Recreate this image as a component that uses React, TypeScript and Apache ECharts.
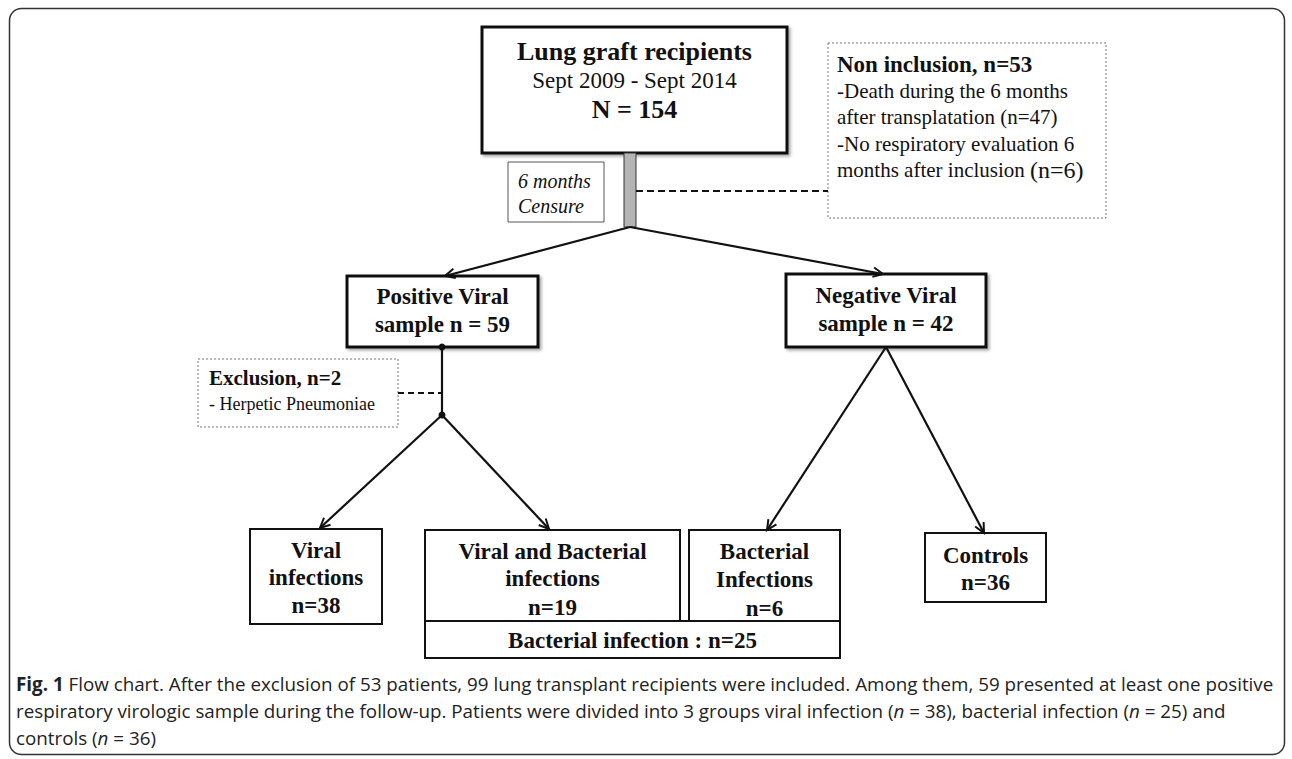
import React, { useEffect, useRef } from 'react';
import * as echarts from 'echarts';

// ---------- data (texts and counts) ----------
const TITLE_LINES = ['Lung graft recipients', 'Sept 2009 - Sept 2014', 'N = 154'];
const CENSURE_LINES = ['6 months', 'Censure'];
const NON_INCLUSION_LINES = [
  'Non inclusion, n=53',
  '-Death during the 6 months',
  'after transplatation (n=47)',
  '-No respiratory evaluation 6',
  'months after inclusion {big|(n=6)}',
];
const POSITIVE_LINES = ['Positive Viral', 'sample n = 59'];
const NEGATIVE_LINES = ['Negative Viral', 'sample n = 42'];
const EXCLUSION_LINES = ['Exclusion, n=2', '- Herpetic Pneumoniae'];
const VIRAL_LINES = ['Viral', 'infections', 'n=38'];
const VIRAL_BACT_LINES = ['Viral and Bacterial', 'infections', 'n=19'];
const BACT_LINES = ['Bacterial', 'Infections', 'n=6'];
const CONTROL_LINES = ['Controls', 'n=36'];
const BACT_TOTAL = 'Bacterial infection : n=25';
const CAPTION_LINES = [
  '{b|Fig. 1} Flow chart. After the exclusion of 53 patients, 99 lung transplant recipients were included. Among them, 59 presented at least one positive',
  'respiratory virologic sample during the follow-up. Patients were divided into 3 groups viral infection ({i|n} = 38), bacterial infection ({i|n} = 25) and',
  'controls ({i|n} = 36)',
];

// ---------- layout ----------
const SERIF = '"Liberation Serif", "Times New Roman", Times, serif';
const SANS = '"Open Sans", "Noto Sans", sans-serif';
const INK = '#111';
const CAP_SIZE = 18.8;

function buildElements() {
  const els: any[] = [];

  const box = (x: number, y: number, w: number, h: number, style: any, z = 2) => {
    els.push({ type: 'rect', z, silent: true, shape: { x, y, width: w, height: h }, style: { fill: '#fff', ...style } });
  };
  const text = (
    x: number, base: number, s: string, size: number,
    o: { weight?: string; italic?: boolean; align?: string; family?: string; k?: number; rich?: any } = {}
  ) => {
    const k = o.k ?? 0.34;
    els.push({
      type: 'text', z: 10, silent: true, x, y: base - k * size,
      style: {
        text: s, fill: INK, fontSize: size, fontFamily: o.family || SERIF,
        fontWeight: o.weight || 'normal', fontStyle: o.italic ? 'italic' : 'normal',
        align: o.align || 'center', verticalAlign: 'middle',
        textAlign: o.align || 'center', textVerticalAlign: 'middle',
        ...(o.rich ? { rich: o.rich } : {}),
      },
    });
  };
  const line = (x1: number, y1: number, x2: number, y2: number, style: any = {}) => {
    els.push({ type: 'line', z: 3, silent: true, shape: { x1, y1, x2, y2 }, style: { stroke: INK, lineWidth: 2.2, ...style } });
  };
  const arrow = (x1: number, y1: number, x2: number, y2: number) => {
    line(x1, y1, x2, y2);
    const a = Math.atan2(y2 - y1, x2 - x1);
    const L = 11, s = 0.45;
    els.push({
      type: 'polyline', z: 3, silent: true,
      shape: { points: [
        [x2 - L * Math.cos(a - s), y2 - L * Math.sin(a - s)],
        [x2, y2],
        [x2 - L * Math.cos(a + s), y2 - L * Math.sin(a + s)],
      ] },
      style: { stroke: INK, lineWidth: 2, fill: 'none' },
    });
  };
  const dot = (x: number, y: number) => {
    els.push({ type: 'circle', z: 4, silent: true, shape: { cx: x, cy: y, r: 3.5 }, style: { fill: INK } });
  };
  const shadow = { shadowBlur: 3, shadowOffsetX: 2, shadowOffsetY: 2, shadowColor: 'rgba(0,0,0,0.35)' };

  // outer frame
  els.push({
    type: 'rect', z: 0, silent: true,
    shape: { x: 9.5, y: 8.5, width: 1275, height: 746, r: 12 },
    style: { fill: 'none', stroke: '#333', lineWidth: 1.5 },
  });

  // top box
  box(482, 27, 305, 126, { stroke: INK, lineWidth: 3, ...shadow });
  text(634.5, 60, TITLE_LINES[0], 26, { weight: 'bold' });
  text(634.5, 88, TITLE_LINES[1], 23);
  text(634.5, 118, TITLE_LINES[2], 26, { weight: 'bold' });

  // censure bar
  box(624, 153, 12, 74, { fill: '#b4b4b4', stroke: '#333', lineWidth: 1 });
  box(508, 162, 96, 60, { stroke: '#555', lineWidth: 1 });
  text(518, 188, CENSURE_LINES[0], 20, { italic: true, align: 'left' });
  text(518, 213, CENSURE_LINES[1], 20, { italic: true, align: 'left' });

  // non inclusion
  line(636, 191, 828, 191, { lineDash: [7, 4] });
  box(828, 43, 278, 175, { stroke: '#777', lineWidth: 1, lineDash: [2, 2] });
  NON_INCLUSION_LINES.forEach((s, i) => {
    text(837, 72 + 26.25 * i, s, i === 0 ? 23 : 21, {
      weight: i === 0 ? 'bold' : 'normal', align: 'left',
      rich: { big: { fontSize: 24, fontFamily: SERIF, fill: INK } },
    });
  });

  // branches to positive / negative
  arrow(630, 227, 445, 276);
  arrow(630, 227, 883, 274);

  box(347, 276, 191, 71, { stroke: INK, lineWidth: 3, ...shadow });
  text(442.5, 304, POSITIVE_LINES[0], 23, { weight: 'bold' });
  text(442.5, 332, POSITIVE_LINES[1], 23, { weight: 'bold' });

  box(786, 274, 200, 73, { stroke: INK, lineWidth: 3, ...shadow });
  text(886, 303, NEGATIVE_LINES[0], 23, { weight: 'bold' });
  text(886, 331, NEGATIVE_LINES[1], 23, { weight: 'bold' });

  // exclusion
  line(442, 347, 442, 415);
  dot(442, 347);
  dot(442, 415);
  line(398, 393, 442, 393, { lineDash: [6, 4] });
  box(198, 359, 200, 68, { stroke: '#777', lineWidth: 1, lineDash: [2, 2] });
  text(209, 385, EXCLUSION_LINES[0], 21, { weight: 'bold', align: 'left' });
  text(209, 410, EXCLUSION_LINES[1], 18, { align: 'left' });

  // lower arrows
  arrow(442, 415, 320, 528);
  arrow(442, 415, 549, 529);
  arrow(886, 347, 767, 530);
  arrow(886, 347, 984, 533);

  // bottom boxes
  box(250, 529, 132, 95, { stroke: INK, lineWidth: 2 });
  VIRAL_LINES.forEach((s, i) => text(316, [558, 585, 613][i], s, 23, { weight: 'bold' }));

  box(425, 530, 255, 91, { stroke: INK, lineWidth: 2 });
  VIRAL_BACT_LINES.forEach((s, i) => text(552.5, [559, 586, 615][i], s, 23, { weight: 'bold' }));

  box(689, 530, 151, 91, { stroke: INK, lineWidth: 2 });
  BACT_LINES.forEach((s, i) => text(764.5, [559, 587, 616][i], s, 23, { weight: 'bold' }));

  box(425, 621, 415, 37, { stroke: INK, lineWidth: 2 });
  text(632.5, 648, BACT_TOTAL, 23, { weight: 'bold' });

  box(925, 533, 121, 69, { stroke: INK, lineWidth: 2 });
  CONTROL_LINES.forEach((s, i) => text(985.5, [563, 590][i], s, 23, { weight: 'bold' }));

  // caption
  const capBase = [691, 718, 745];
  CAPTION_LINES.forEach((s, i) => {
    els.push({
      type: 'text', z: 10, silent: true, x: 16, y: capBase[i] - 0.39 * CAP_SIZE,
      style: {
        text: s, fill: '#222', fontSize: CAP_SIZE, fontFamily: SANS,
        align: 'left', verticalAlign: 'middle', textAlign: 'left', textVerticalAlign: 'middle',
        rich: {
          b: { fontWeight: 'bold', fontSize: CAP_SIZE, fontFamily: SANS, fill: '#222' },
          i: { fontStyle: 'italic', fontSize: CAP_SIZE, fontFamily: SANS, fill: '#222' },
        },
      },
    });
  });

  return els;
}

export default function App() {
  const ref = useRef<HTMLDivElement>(null);
  useEffect(() => {
    if (!ref.current) return;
    const chart = echarts.init(ref.current, null, { renderer: 'svg' });
    chart.setOption({ animation: false, graphic: { elements: buildElements() } });
    return () => chart.dispose();
  }, []);
  return (
    <div
      ref={ref}
      style={{ position: 'absolute', left: 0, top: 0, width: 1292, height: 759, background: '#fff' }}
    />
  );
}
